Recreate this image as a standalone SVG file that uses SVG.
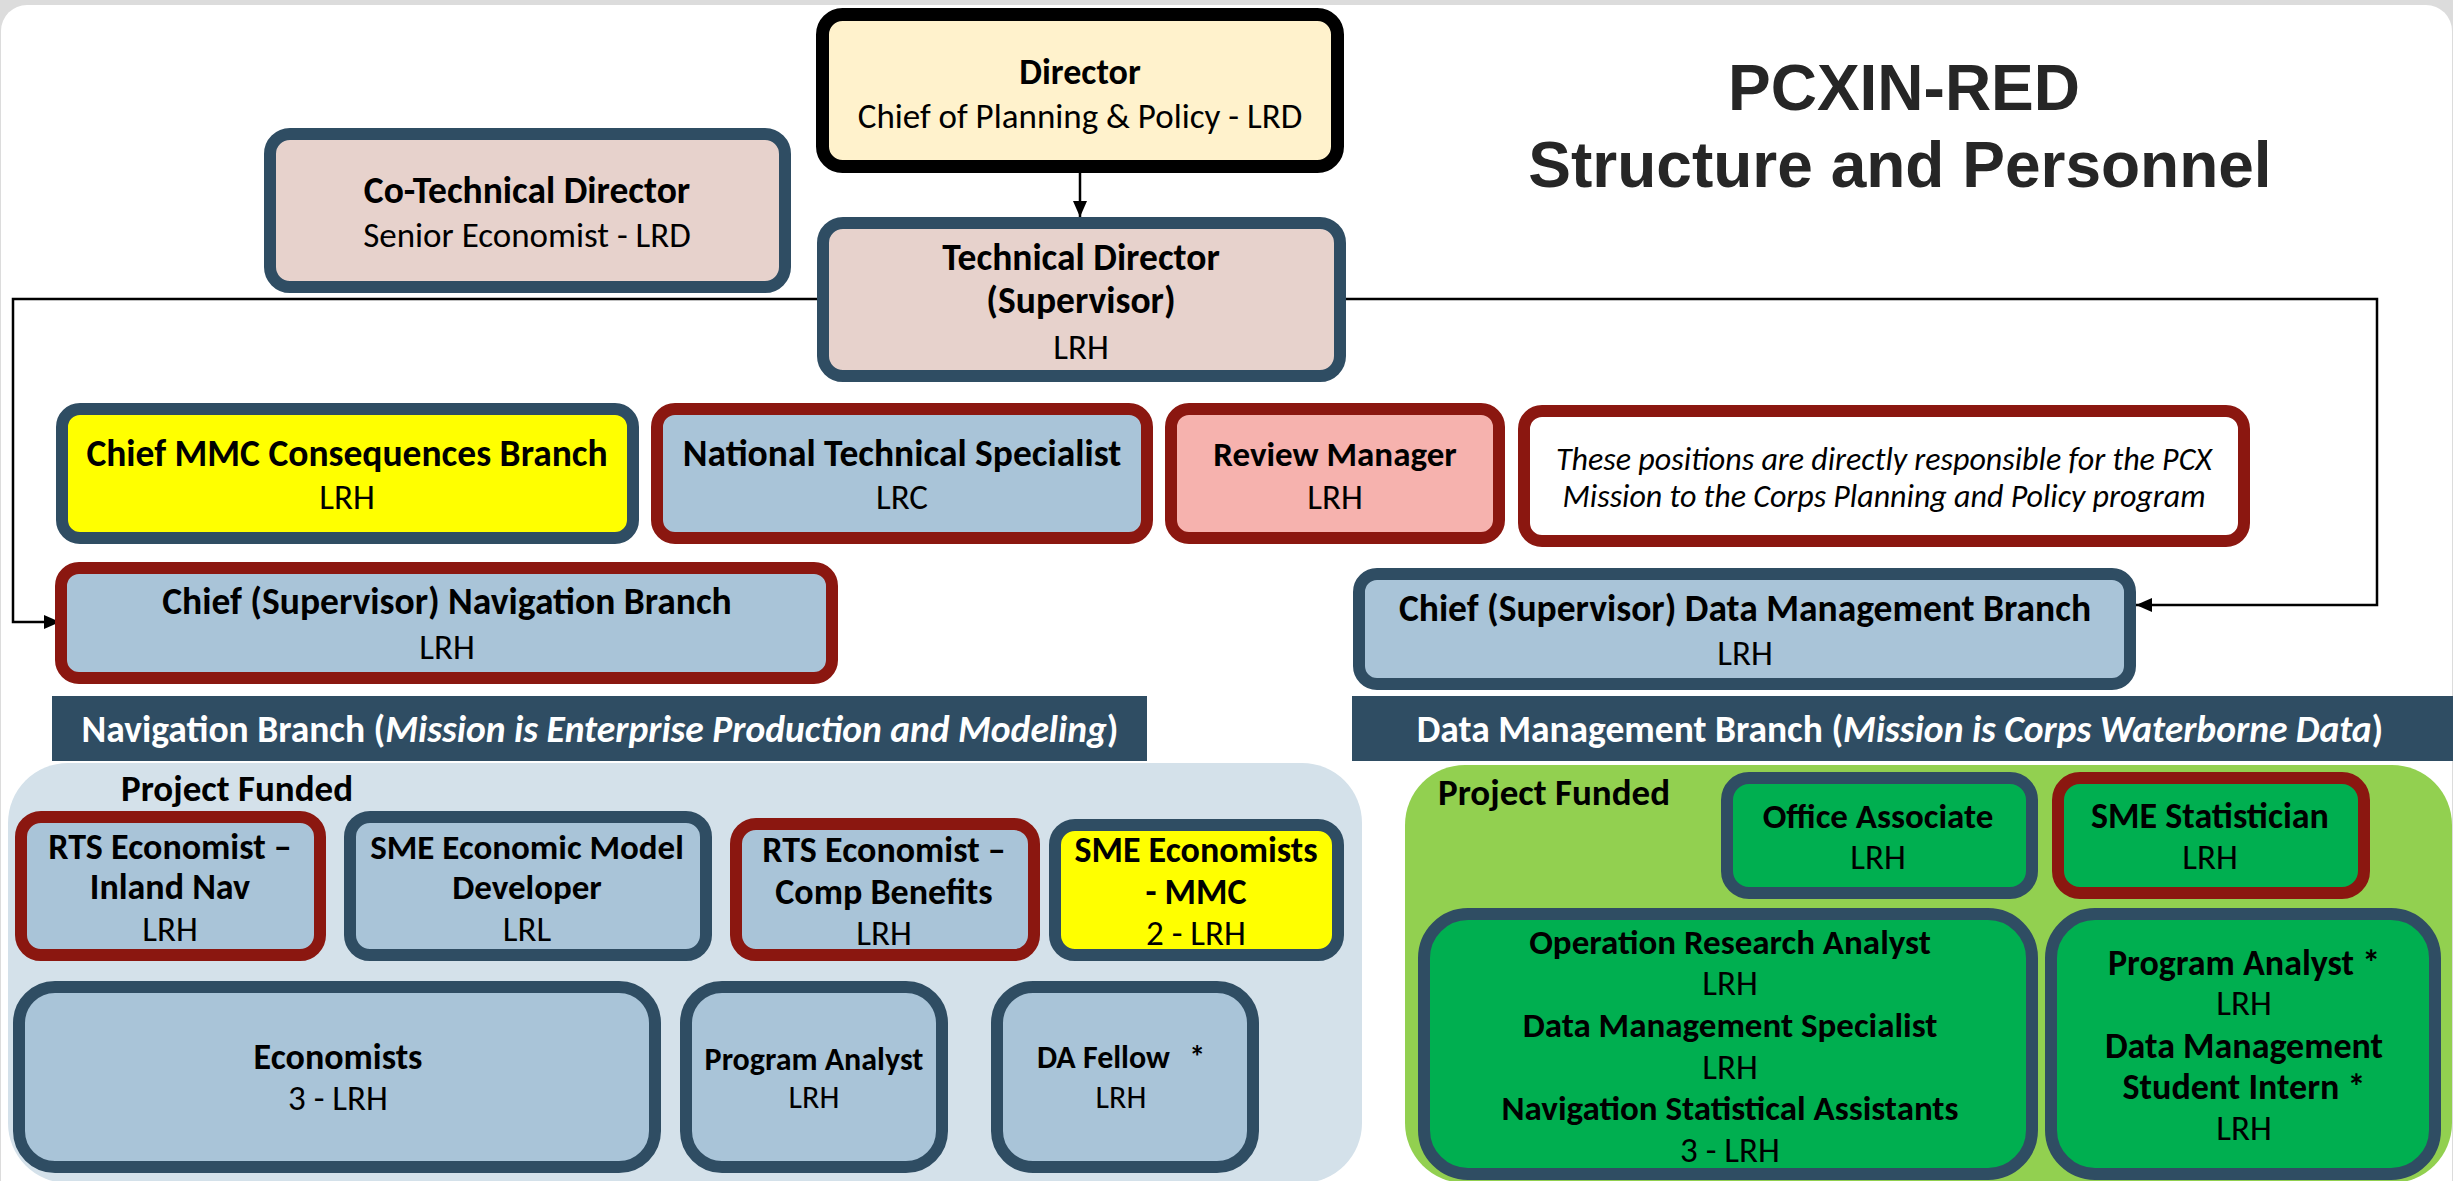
<svg xmlns="http://www.w3.org/2000/svg" width="2453" height="1181" viewBox="0 0 2453 1181">
<defs>
<style>
.t{font-family:Carlito,Lato,"Open Sans",sans-serif;text-anchor:middle;fill:#000}
.b{font-weight:bold;font-size:36px}
.r{font-size:35px}
.bs{font-weight:bold;font-size:32px}
.rs{font-size:32px}
.it{font-style:italic;font-size:32px}
.ban{font-weight:bold;font-size:37.5px;fill:#fff}
.L{font-size:37.5px}
.M{font-size:37px}
.S{font-size:35px}
.ttl{font-family:"Liberation Sans",Arial,sans-serif;font-weight:bold;font-size:64px;fill:#262626;text-anchor:middle}
.slate{stroke:#2F4D63;stroke-width:12}
.red{stroke:#8B1710;stroke-width:12}
.lb{fill:#A9C4D8}
.pk{fill:#E7D2CC}
.yl{fill:#FFFF00}
.gr{fill:#00AF50}
.con{fill:none;stroke:#000;stroke-width:2.5}
</style>
<marker id="arr" markerWidth="16" markerHeight="14" refX="16" refY="7" orient="auto" markerUnits="userSpaceOnUse"><path d="M0,0 L16,7 L0,14 z" fill="#000"/></marker>
</defs>
<rect x="0" y="0" width="2453" height="1181" fill="#DCDCDC"/>
<rect x="1" y="5" width="2451" height="1200" rx="26" fill="#fff"/>

<g id="title">
<text class="ttl" x="1904" y="110">PCXIN-RED</text>
<text class="ttl" x="1900" y="187">Structure and Personnel</text>
</g>

<g id="nav-panel"><rect x="8" y="763" width="1354" height="420" rx="60" fill="#D4E1EA"/></g>
<g id="dm-panel"><rect x="1405" y="765" width="1047" height="418" rx="60" fill="#92D050"/></g>

<g id="connectors">
<path class="con" d="M1080,173 V217" marker-end="url(#arr)"/>
<path class="con" d="M817,299 H13 V622 H60" marker-end="url(#arr)"/>
<path class="con" d="M1346,299 H2377 V605 H2136" marker-end="url(#arr)"/>
</g>

<g id="director">
<rect x="822.5" y="14.5" width="515" height="152" rx="20" fill="#FFF2CC" stroke="#000" stroke-width="13"/>
<text class="t b" x="1080" y="84">Director</text>
<text class="t r" x="1080" y="128">Chief of Planning &amp; Policy - LRD</text>
</g>

<g id="co-technical-director">
<rect class="slate pk" x="270" y="134" width="515" height="153" rx="20"/>
<text class="t b L" x="527" y="203">Co-Technical Director</text>
<text class="t r" x="527" y="247">Senior Economist - LRD</text>
</g>

<g id="technical-director">
<rect class="slate pk" x="823" y="223" width="517" height="153" rx="20"/>
<text class="t b L" x="1081" y="270">Technical Director</text>
<text class="t b L" x="1081" y="313">(Supervisor)</text>
<text class="t r" x="1081" y="359">LRH</text>
</g>

<g id="chief-mmc">
<rect class="slate yl" x="62" y="409" width="571" height="129" rx="18"/>
<text class="t b L" x="347" y="466">Chief MMC Consequences Branch</text>
<text class="t r" x="347" y="509">LRH</text>
</g>

<g id="national-technical-specialist">
<rect class="red lb" x="657" y="409" width="490" height="129" rx="18"/>
<text class="t b L" x="902" y="466">National Technical Specialist</text>
<text class="t r" x="902" y="509">LRC</text>
</g>

<g id="review-manager">
<rect class="red" x="1171" y="409" width="328" height="129" rx="18" fill="#F6B2AE"/>
<text class="t b S" x="1335" y="466">Review Manager</text>
<text class="t r" x="1335" y="509">LRH</text>
</g>

<g id="note">
<rect class="red" x="1524" y="411" width="720" height="130" rx="18" fill="#fff"/>
<text class="t it" x="1884" y="470">These positions are directly responsible for the PCX</text>
<text class="t it" x="1884" y="507">Mission to the Corps Planning and Policy program</text>
</g>

<g id="chief-navigation">
<rect class="red lb" x="61" y="568" width="771" height="110" rx="18"/>
<text class="t b L" x="447" y="614">Chief (Supervisor) Navigation Branch</text>
<text class="t r" x="447" y="659">LRH</text>
</g>

<g id="chief-data-management">
<rect class="slate lb" x="1359" y="574" width="771" height="110" rx="18"/>
<text class="t b L" x="1745" y="621">Chief (Supervisor) Data Management Branch</text>
<text class="t r" x="1745" y="665">LRH</text>
</g>

<g id="nav-banner">
<rect x="52" y="696" width="1095" height="65" fill="#2F4D63"/>
<text class="t ban" x="600" y="742">Navigation Branch (<tspan font-style="italic">Mission is Enterprise Production and Modeling</tspan>)</text>
</g>

<g id="dm-banner">
<rect x="1352" y="696" width="1101" height="65" fill="#2F4D63"/>
<text class="t ban" x="1900" y="742">Data Management Branch (<tspan font-style="italic">Mission is Corps Waterborne Data</tspan>)</text>
</g>

<g id="nav-project-funded"><text class="t b M" x="237" y="801">Project Funded</text></g>
<g id="dm-project-funded"><text class="t b M" x="1554" y="805">Project Funded</text></g>

<g id="rts-inland">
<rect class="red lb" x="21" y="817" width="299" height="138" rx="20"/>
<text class="t b" x="170" y="859">RTS Economist –</text>
<text class="t b" x="170" y="899">Inland Nav</text>
<text class="t r" x="170" y="941">LRH</text>
</g>

<g id="sme-model">
<rect class="slate lb" x="350" y="817" width="356" height="138" rx="20"/>
<text class="t b S" x="527" y="859">SME Economic Model</text>
<text class="t b S" x="527" y="899">Developer</text>
<text class="t r" x="527" y="941">LRL</text>
</g>

<g id="rts-comp">
<rect class="red lb" x="736" y="824" width="298" height="131" rx="20"/>
<text class="t b" x="884" y="862">RTS Economist –</text>
<text class="t b" x="884" y="904">Comp Benefits</text>
<text class="t r" x="884" y="945">LRH</text>
</g>

<g id="sme-mmc">
<rect class="slate yl" x="1055" y="825" width="283" height="130" rx="20"/>
<text class="t b" x="1196" y="862">SME Economists</text>
<text class="t b" x="1196" y="904">- MMC</text>
<text class="t r" x="1196" y="945">2 - LRH</text>
</g>

<g id="economists">
<rect class="slate lb" x="19" y="987" width="636" height="180" rx="36"/>
<text class="t b" x="338" y="1069">Economists</text>
<text class="t r" x="338" y="1110">3 - LRH</text>
</g>

<g id="program-analyst-nav">
<rect class="slate lb" x="686" y="987" width="256" height="180" rx="36"/>
<text class="t bs" x="814" y="1070">Program Analyst</text>
<text class="t rs" x="814" y="1108">LRH</text>
</g>

<g id="da-fellow">
<rect class="slate lb" x="997" y="987" width="256" height="180" rx="36"/>
<text class="t bs" x="1121" y="1068">DA Fellow <tspan dx="12">*</tspan></text>
<text class="t rs" x="1121" y="1108">LRH</text>
</g>

<g id="office-associate">
<rect class="slate gr" x="1727" y="778" width="305" height="115" rx="22"/>
<text class="t b S" x="1878" y="828">Office Associate</text>
<text class="t r" x="1878" y="869">LRH</text>
</g>

<g id="sme-statistician">
<rect class="red gr" x="2058" y="778" width="306" height="115" rx="22"/>
<text class="t b" x="2210" y="828">SME Statistician</text>
<text class="t r" x="2210" y="869">LRH</text>
</g>

<g id="dm-staff">
<rect class="slate gr" x="1424" y="914" width="608" height="260" rx="44"/>
<text class="t b S" x="1730" y="954">Operation Research Analyst</text>
<text class="t r" x="1730" y="995">LRH</text>
<text class="t b S" x="1730" y="1037">Data Management Specialist</text>
<text class="t r" x="1730" y="1079">LRH</text>
<text class="t b S" x="1730" y="1120">Navigation Statistical Assistants</text>
<text class="t r" x="1730" y="1162">3 - LRH</text>
</g>

<g id="dm-analysts">
<rect class="slate gr" x="2051" y="914" width="384" height="260" rx="44"/>
<text class="t b" x="2244" y="975">Program Analyst *</text>
<text class="t r" x="2244" y="1015">LRH</text>
<text class="t b" x="2244" y="1058">Data Management</text>
<text class="t b" x="2244" y="1099">Student Intern *</text>
<text class="t r" x="2244" y="1140">LRH</text>
</g>
</svg>
